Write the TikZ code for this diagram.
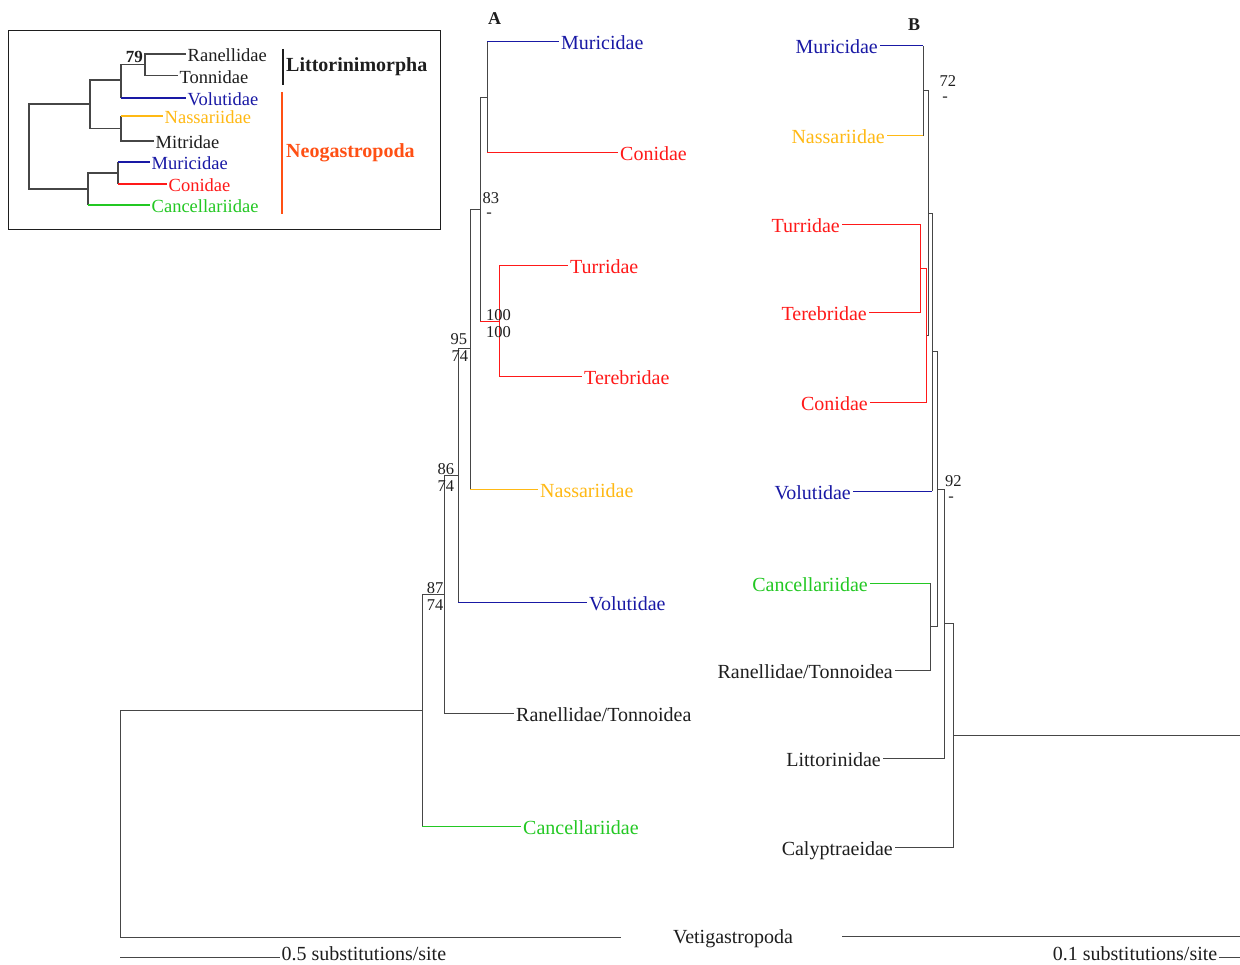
\documentclass[tikz,border=0pt]{standalone}
\usepackage{fontspec}
\setmainfont{Liberation Serif}
\definecolor{tblue}{RGB}{25,25,165}
\definecolor{tred}{RGB}{255,25,25}
\definecolor{torange}{RGB}{255,185,20}
\definecolor{tgreen}{RGB}{35,200,35}
\definecolor{neored}{RGB}{255,80,20}
\definecolor{lgray}{RGB}{70,70,70}
\definecolor{txt}{RGB}{30,30,30}
\tikzset{
  br/.style={draw=lgray, line width=1pt},
  cb/.style={draw=#1, line width=1pt},
  ib/.style={draw=lgray, line width=1.4pt},
  icb/.style={draw=#1, line width=1.4pt},
  lbl/.style={inner xsep=2pt, inner ysep=0pt, text height=18pt, text depth=2pt, font=\fontsize{20}{21}\selectfont, text=txt},
  lw/.style={lbl, anchor=west},
  le/.style={lbl, anchor=east},
  ilbl/.style={inner xsep=1.5pt, inner ysep=0pt, text height=18pt, text depth=2pt, font=\fontsize{18.5}{19}\selectfont, text=txt, anchor=west},
  num/.style={inner sep=0pt, font=\fontsize{16.5}{18}\selectfont, text=txt, anchor=base west},
  hyph/.style={inner sep=0pt, font=\fontsize{16.5}{18}\selectfont, text=txt, anchor=center},
  ttl/.style={inner sep=0pt, font=\bfseries\fontsize{18}{20}\selectfont, text=txt, anchor=base west}
}
\begin{document}
\begin{tikzpicture}[x=1pt,y=-1pt]
\useasboundingbox[fill=white] (0,0) rectangle (1240,965);

% ================= Inset =================
\node[draw=txt, line width=1.2pt, minimum width=432pt, minimum height=199pt, inner sep=0pt, anchor=north west] (box) at (8,30) {};
\node[ilbl] (iRan) at (186,54) {Ranellidae};
\node[ilbl] (iTon) at (178,75.5) {Tonnidae};
\node[ilbl, text=tblue] (iVol) at (186,98) {Volutidae};
\node[ilbl, text=torange] (iNas) at (163,116) {Nassariidae};
\node[ilbl] (iMit) at (154,141) {Mitridae};
\node[ilbl, text=tblue] (iMur) at (150,162) {Muricidae};
\node[ilbl, text=tred] (iCon) at (167,184) {Conidae};
\node[ilbl, text=tgreen] (iCan) at (150,205) {Cancellariidae};
\coordinate (iRT) at (145,64.5);
\coordinate (iRTV) at (121,80);
\coordinate (iNM) at (121,128.5);
\coordinate (iUp) at (90,104);
\coordinate (iMC) at (118,173);
\coordinate (iLow) at (88,189);
\coordinate (iRoot) at (29,146.5);
\draw[ib] (iRoot) |- (iUp);
\draw[ib] (iRoot) |- (iLow);
\draw[ib] (iUp) |- (iRTV);
\draw[ib] (iUp) |- (iNM);
\draw[ib] (iRTV) |- (iRT);
\draw[ib] (iRT) |- (iRan.west);
\draw[ib] (iRT) |- (iTon.west);
\draw[ib] (iRTV) -- (iRTV |- iVol.west);
\draw[icb=tblue] (iRTV |- iVol.west) -- (iVol.west);
\draw[ib] (iNM) -- (iNM |- iNas.west);
\draw[icb=torange] (iNM |- iNas.west) -- (iNas.west);
\draw[ib] (iNM) |- (iMit.west);
\draw[ib] (iLow) |- (iMC);
\draw[ib] (iLow) -- (iLow |- iCan.west);
\draw[icb=tgreen] (iLow |- iCan.west) -- (iCan.west);
\draw[ib] (iMC) -- (iMC |- iMur.west);
\draw[icb=tblue] (iMC |- iMur.west) -- (iMur.west);
\draw[ib] (iMC) -- (iMC |- iCon.west);
\draw[icb=tred] (iMC |- iCon.west) -- (iCon.west);
\node[inner sep=0pt, font=\bfseries\fontsize{17}{18}\selectfont, text=txt, anchor=base east] (i79) at (143,62.3) {79};
\coordinate (lmT) at (283,49);
\coordinate (lmB) at (283,85);
\draw[draw=txt, line width=1.4pt] (lmT) -- (lmB);
\node[inner sep=0pt, font=\bfseries\fontsize{20}{22}\selectfont, text=txt, anchor=base west] (lm) at (286,72) {Littorinimorpha};
\coordinate (ngT) at (282,92);
\coordinate (ngB) at (282,214);
\draw[draw=neored, line width=1.4pt] (ngT) -- (ngB);
\node[inner sep=0pt, font=\bfseries\fontsize{20}{22}\selectfont, text=neored, anchor=base west] (ng) at (286,157.7) {Neogastropoda};

% ================= Tree A =================
\node[ttl] (tA) at (488,25) {A};
\node[lw, text=tblue] (aMur) at (559,42) {Muricidae};
\node[lw, text=tred] (aCon) at (618,153) {Conidae};
\node[lw, text=tred] (aTur) at (568,266) {Turridae};
\node[lw, text=tred] (aTer) at (582,377) {Terebridae};
\node[lw, text=torange] (aNas) at (538,489) {Nassariidae};
\node[lw, text=tblue] (aVol) at (587,602) {Volutidae};
\node[lw] (aRan) at (514,713) {Ranellidae/Tonnoidea};
\node[lw, text=tgreen] (aCan) at (521,826) {Cancellariidae};
\coordinate (aVeti) at (621,937);
\coordinate (aMC) at (487,97.5);
\coordinate (aTT) at (499,321.5);
\coordinate (a83) at (480,209.5);
\coordinate (a95) at (470,349);
\coordinate (a86) at (458,475.5);
\coordinate (a87) at (444,594.5);
\coordinate (aR) at (422,710);
\coordinate (aRoot) at (120,823.5);
\draw[br] (aRoot) |- (aR);
\draw[br] (aRoot) |- (aVeti);
\draw[br] (aR) |- (a87);
\draw[br] (aR) -- (aR |- aCan.west);
\draw[cb=tgreen] (aR |- aCan.west) -- (aCan.west);
\draw[br] (a87) |- (a86);
\draw[br] (a87) |- (aRan.west);
\draw[br] (a86) |- (a95);
\draw[br] (a86) -- (a86 |- aVol.west);
\draw[cb=tblue] (a86 |- aVol.west) -- (aVol.west);
\draw[br] (a95) |- (a83);
\draw[br] (a95) -- (a95 |- aNas.west);
\draw[cb=torange] (a95 |- aNas.west) -- (aNas.west);
\draw[br] (a83) |- (aMC);
\draw[br] (a83) -- (a83 |- aTT);
\draw[cb=tred] (a83 |- aTT) -- (aTT);
\draw[cb=tred] (aTT) |- (aTur.west);
\draw[cb=tred] (aTT) |- (aTer.west);
\draw[br] (aMC) -- (aMC |- aMur.west);
\draw[cb=tblue] (aMC |- aMur.west) -- (aMur.west);
\draw[br] (aMC) -- (aMC |- aCon.west);
\draw[cb=tred] (aMC |- aCon.west) -- (aCon.west);
% support values A
\node[num] (s83) at (482.5,203.3) {83};
\node[hyph] (s83b) at (489,215.5) {-};
\node[num] (s100a) at (486,320.7) {100};
\node[num] (s100b) at (486,337.7) {100};
\node[num] (s95) at (450.5,345) {95};
\node[num] (s95b) at (451.5,361.7) {74};
\node[num] (s86) at (437.3,475) {86};
\node[num] (s86b) at (437.3,491) {74};
\node[num] (s87) at (426.7,593.3) {87};
\node[num] (s87b) at (426.7,610) {74};

% ================= Tree B =================
\node[ttl] (tB) at (908,30.7) {B};
\node[le, text=tblue] (bMur) at (880,46) {Muricidae};
\node[le, text=torange] (bNas) at (887,136) {Nassariidae};
\node[le, text=tred] (bTur) at (842,225) {Turridae};
\node[le, text=tred] (bTer) at (869,313) {Terebridae};
\node[le, text=tred] (bCon) at (870,403) {Conidae};
\node[le, text=tblue] (bVol) at (853,491) {Volutidae};
\node[le, text=tgreen] (bCan) at (870,583) {Cancellariidae};
\node[le] (bRan) at (895,670) {Ranellidae/Tonnoidea};
\node[le] (bLit) at (883,758) {Littorinidae};
\node[le] (bCal) at (895,847) {Calyptraeidae};
\coordinate (bMN) at (923,91);
\coordinate (bTT) at (920,269);
\coordinate (bRed) at (926,336);
\coordinate (b72) at (928,213.5);
\coordinate (bV) at (932,352);
\coordinate (bCR) at (930,626.5);
\coordinate (b92) at (937,489);
\coordinate (bL) at (944,623.5);
\coordinate (bRoot) at (953,735);
\coordinate (bOut) at (1240,735);
\draw[br] (bRoot) |- (bL);
\draw[br] (bRoot) |- (bCal.east);
\draw[br] (bRoot) -- (bOut);
\draw[br] (bL) |- (b92);
\draw[br] (bL) |- (bLit.east);
\draw[br] (b92) |- (bV);
\draw[br] (b92) |- (bCR);
\draw[br] (bCR) -- (bCR |- bCan.east);
\draw[cb=tgreen] (bCR |- bCan.east) -- (bCan.east);
\draw[br] (bCR) |- (bRan.east);
\draw[br] (bV) |- (b72);
\draw[br] (bV) -- (bV |- bVol.east);
\draw[cb=tblue] (bV |- bVol.east) -- (bVol.east);
\draw[br] (b72) |- (bMN);
\draw[br] (b72) |- (bRed);
\draw[cb=tred] (bRed) |- (bTT);
\draw[cb=tred] (bRed) |- (bCon.east);
\draw[cb=tred] (bTT) |- (bTur.east);
\draw[cb=tred] (bTT) |- (bTer.east);
\draw[br] (bMN) -- (bMN |- bMur.east);
\draw[cb=tblue] (bMN |- bMur.east) -- (bMur.east);
\draw[br] (bMN) -- (bMN |- bNas.east);
\draw[cb=torange] (bMN |- bNas.east) -- (bNas.east);
\node[num] (s72) at (939.3,86.7) {72};
\node[hyph] (s72b) at (945,99.3) {-};
\node[num] (s92) at (944.8,486) {92};
\node[hyph] (s92b) at (951,499.3) {-};

% ================= Outgroup and scales =================
\node[lbl, anchor=center] (veti) at (733,935) {Vetigastropoda};
\coordinate (vL) at (842,936);
\coordinate (vR) at (1240,936);
\draw[br] (vL) -- (vR);
\node[inner xsep=1.5pt, inner ysep=0pt, font=\fontsize{20}{21}\selectfont, text=txt, anchor=base west] (scA) at (280,960.5) {0.5 substitutions/site};
\coordinate (scA0) at (120,957.5);
\draw[br] (scA0) -- (scA0 -| scA.west);
\node[inner xsep=1.5pt, inner ysep=0pt, font=\fontsize{20}{21}\selectfont, text=txt, anchor=base east] (scB) at (1219,960.5) {0.1 substitutions/site};
\coordinate (scB1) at (1240,957);
\draw[br] (scB1) -- (scB1 -| scB.east);
\end{tikzpicture}
\end{document}
